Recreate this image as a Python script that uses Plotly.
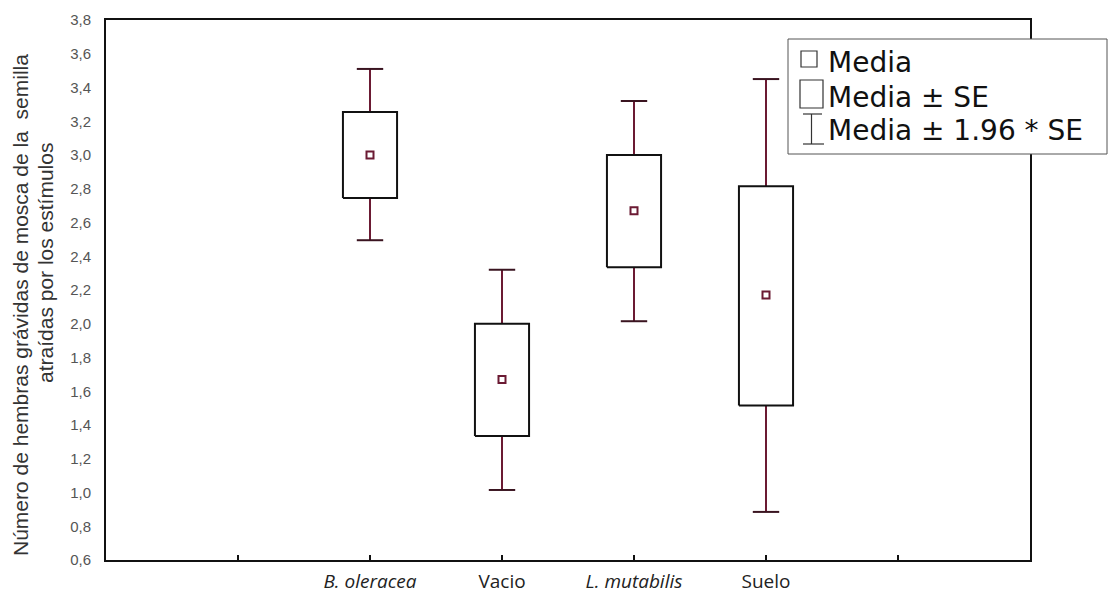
import plotly.graph_objects as go

# ---------------- data ----------------
categories = ["B. oleracea", "Vacio", "L. mutabilis", "Suelo"]
category_labels = ["<i>B. oleracea</i>", "Vacio", "<i>L. mutabilis</i>", "Suelo"]
category_positions = [2, 3, 4, 5]
means = [3.00, 1.67, 2.67, 2.17]
se_low = [2.745, 1.335, 2.335, 1.515]
se_high = [3.255, 2.000, 3.000, 2.815]
ci_low = [2.495, 1.015, 2.015, 0.885]
ci_high = [3.510, 2.320, 3.320, 3.450]

y_tick_values = [0.6, 0.8, 1.0, 1.2, 1.4, 1.6, 1.8, 2.0, 2.2, 2.4, 2.6, 2.8,
                 3.0, 3.2, 3.4, 3.6, 3.8]
y_tick_labels = ["0,6", "0,8", "1,0", "1,2", "1,4", "1,6", "1,8", "2,0", "2,2",
                 "2,4", "2,6", "2,8", "3,0", "3,2", "3,4", "3,6", "3,8"]
x_tick_values = [1, 2, 3, 4, 5, 6]
x_tick_labels = [""] + category_labels + [""]

legend_labels = ["Media", "Media \u00b1 SE", "Media \u00b1 1.96 * SE"]
y_title_lines = ["N\u00famero de hembras gr\u00e1vidas de mosca de la  semilla",
                 "atra\u00eddas por los est\u00edmulos"]

# ---------------- styling ----------------
W, H = 1110, 601
M_L, M_R, M_T, M_B = 106, 80, 20, 41
PLOT_W = W - M_L - M_R
PLOT_H = H - M_T - M_B
MAROON = "#6b1a33"
CAP = "#3a1420"
BOX_HALF = 0.205
CAP_HALF = 0.10


def px_x(px):
    return (px - M_L) / PLOT_W


def px_y(py):
    return (H - M_B - py) / PLOT_H


fig = go.Figure()

# whiskers
wx, wy = [], []
for c, lo, hi, blo, bhi in zip(category_positions, ci_low, ci_high, se_low, se_high):
    wx += [c, c, None, c, c, None]
    wy += [bhi, hi, None, blo, lo, None]
fig.add_trace(go.Scatter(x=wx, y=wy, mode="lines",
                         line=dict(color=MAROON, width=2), hoverinfo="skip",
                         showlegend=False))

# caps
cx, cy = [], []
for c, lo, hi in zip(category_positions, ci_low, ci_high):
    cx += [c - CAP_HALF, c + CAP_HALF, None, c - CAP_HALF, c + CAP_HALF, None]
    cy += [hi, hi, None, lo, lo, None]
fig.add_trace(go.Scatter(x=cx, y=cy, mode="lines",
                         line=dict(color=CAP, width=2), hoverinfo="skip",
                         showlegend=False))

# boxes (mean +/- SE)
bx, by = [], []
for c, lo, hi in zip(category_positions, se_low, se_high):
    bx += [c - BOX_HALF, c + BOX_HALF, c + BOX_HALF, c - BOX_HALF, c - BOX_HALF, None]
    by += [lo, lo, hi, hi, lo, None]
fig.add_trace(go.Scatter(x=bx, y=by, mode="lines",
                         line=dict(color="#111111", width=2), hoverinfo="skip",
                         showlegend=False))

# means
fig.add_trace(go.Scatter(x=category_positions, y=means, mode="markers",
                         marker=dict(symbol="square", size=7, color="white",
                                     line=dict(color=MAROON, width=2)),
                         text=categories, showlegend=False))

# ---------------- custom legend ----------------
shapes = []
annotations = []
LX0, LX1, LY0, LY1 = 788, 1107, 39, 154
shapes.append(dict(type="rect", xref="paper", yref="paper", layer="above",
                   x0=px_x(LX0), x1=px_x(LX1), y0=px_y(LY1), y1=px_y(LY0),
                   line=dict(color="#555555", width=1), fillcolor="white"))
# small square
shapes.append(dict(type="rect", xref="paper", yref="paper", layer="above",
                   x0=px_x(801), x1=px_x(817), y0=px_y(67), y1=px_y(51),
                   line=dict(color="#333333", width=1.2), fillcolor="white"))
# larger box
shapes.append(dict(type="rect", xref="paper", yref="paper", layer="above",
                   x0=px_x(800), x1=px_x(823), y0=px_y(108), y1=px_y(80),
                   line=dict(color="#333333", width=1.2), fillcolor="white"))
# I-beam
for seg in [(811.5, 114, 811.5, 144), (803, 114, 822, 114), (803, 144, 824, 144)]:
    shapes.append(dict(type="line", xref="paper", yref="paper", layer="above",
                       x0=px_x(seg[0]), y0=px_y(seg[1]), x1=px_x(seg[2]), y1=px_y(seg[3]),
                       line=dict(color="#333333", width=1.2)))
for lab, yc in zip(legend_labels, [63, 97, 130]):
    annotations.append(dict(text=lab, xref="paper", yref="paper",
                            x=px_x(826), y=px_y(yc), xanchor="left", yanchor="middle",
                            showarrow=False,
                            font=dict(family="DejaVu Sans", size=28, color="#111111")))

# y-axis title (two lines)
for line, xc, yc in zip(y_title_lines, [20, 45], [305, 263]):
    annotations.append(dict(text=line, xref="paper", yref="paper",
                            x=px_x(xc), y=px_y(yc), xanchor="center", yanchor="middle",
                            textangle=-90, showarrow=False,
                            font=dict(family="Liberation Sans", size=21, color="#333333")))

fig.update_layout(
    width=W, height=H,
    margin=dict(l=M_L, r=M_R, t=M_T, b=M_B, pad=0, autoexpand=False),
    paper_bgcolor="white", plot_bgcolor="white",
    shapes=shapes, annotations=annotations,
    showlegend=False,
    xaxis=dict(range=[0, 7], tickmode="array", tickvals=x_tick_values,
               ticktext=x_tick_labels, ticks="inside", ticklen=5, tickwidth=2,
               tickcolor="#111111", showgrid=False, zeroline=False,
               showline=True, linecolor="#111111", linewidth=2, mirror=True,
               ticklabelstandoff=3, automargin=False,
               tickfont=dict(family="Open Sans", size=19, color="#222222")),
    yaxis=dict(range=[0.6, 3.8], tickmode="array", tickvals=y_tick_values,
               ticktext=y_tick_labels, ticks="", showgrid=False, zeroline=False,
               showline=True, linecolor="#111111", linewidth=2, mirror=True,
               ticklabelstandoff=10, automargin=False,
               tickfont=dict(family="Liberation Sans", size=15, color="#555555")),
)

fig.write_html("out.html")
